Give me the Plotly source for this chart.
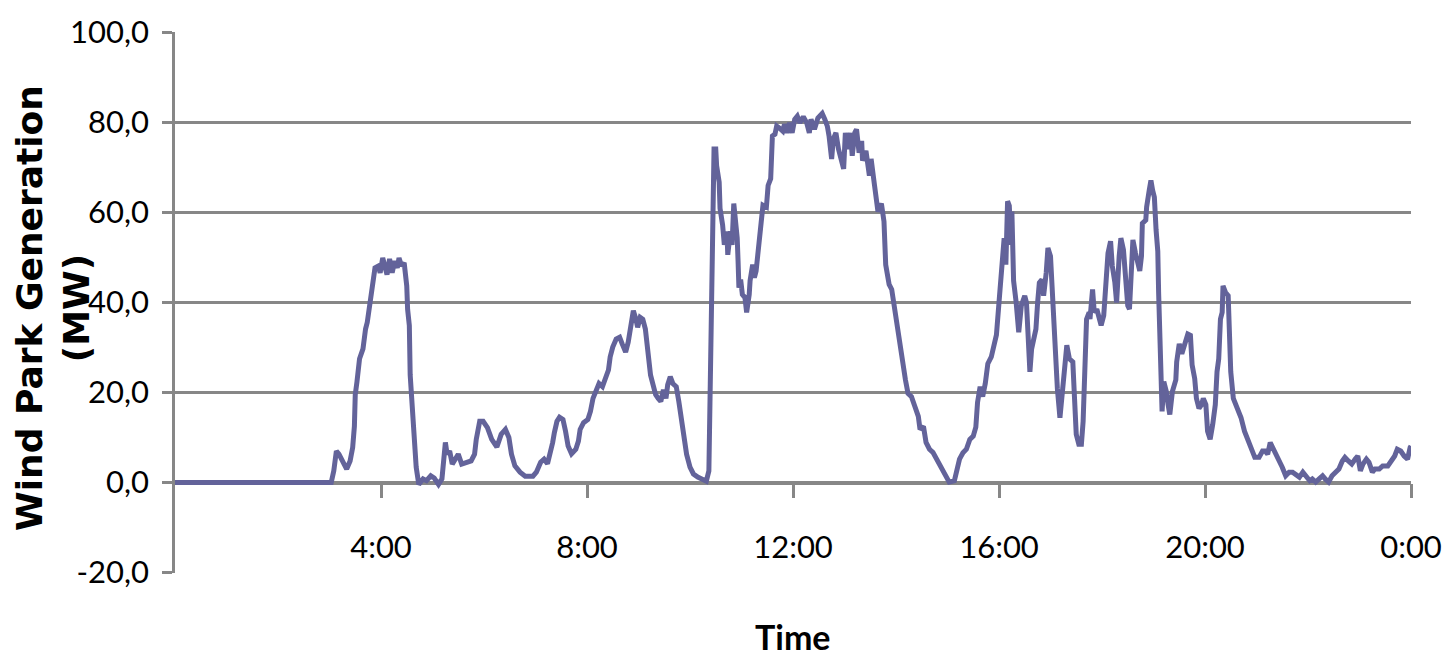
import plotly.graph_objects as go

# time of day in minutes after midnight
minutes = [0, 182, 185, 188, 191, 196, 200, 204, 207, 209, 210, 212, 213, 215, 219, 220, 222, 224, 226, 228,
           231, 233, 237, 239, 242, 245, 247, 250, 253, 256, 259, 261, 264, 267, 270, 271, 273, 274, 276, 278,
           280, 281, 284, 289, 293, 298, 302, 307, 311, 313, 315, 317, 320, 323, 327, 330, 334, 340, 345, 349,
           351, 355, 359, 364, 369, 375, 380, 385, 389, 392, 396, 402, 408, 417, 421, 426, 430, 434, 437, 440,
           442, 445, 448, 452, 455, 458, 462, 467, 470, 472, 476, 481, 484, 487, 491, 494, 498, 501, 505, 507,
           510, 514, 518, 521, 525, 528, 531, 534, 537, 539, 542, 545, 548, 551, 554, 557, 560, 563, 566, 569,
           572, 574, 577, 580, 584, 587, 590, 593, 596, 600, 604, 609, 615, 619, 622, 623, 624, 625, 627, 628,
           630, 631, 634, 635, 638, 640, 643, 644, 647, 649, 651, 653, 655, 656, 657, 659, 661, 664, 666, 669,
           670, 673, 675, 677, 679, 681, 683, 685, 689, 691, 694, 695, 696, 699, 701, 704, 708, 710, 713, 716,
           719, 722, 725, 728, 732, 736, 739, 741, 745, 749, 754, 757, 760, 762, 765, 767, 770, 773, 776, 779,
           781, 784, 787, 789, 792, 794, 797, 800, 801, 805, 809, 811, 815, 819, 823, 826, 828, 832, 835, 837,
           840, 843, 846, 848, 851, 854, 858, 862, 866, 868, 872, 875, 879, 883, 887, 891, 895, 899, 902, 908,
           911, 914, 918, 922, 926, 930, 933, 935, 938, 941, 944, 947, 951, 954, 957, 960, 963, 966, 968, 970,
           972, 974, 975, 977, 980, 983, 986, 990, 992, 994, 996, 998, 1000, 1003, 1005, 1007, 1010, 1012, 1015, 1017,
           1020, 1022, 1024, 1027, 1028, 1031, 1034, 1036, 1039, 1042, 1046, 1048, 1050, 1053, 1056, 1058, 1060, 1062, 1065, 1066,
           1069, 1071, 1074, 1077, 1079, 1082, 1084, 1087, 1090, 1092, 1095, 1097, 1100, 1102, 1105, 1108, 1110, 1112, 1114, 1116,
           1119, 1121, 1124, 1126, 1127, 1131, 1132, 1135, 1137, 1139, 1141, 1143, 1145, 1146, 1147, 1148, 1149, 1150, 1152, 1155,
           1157, 1159, 1162, 1166, 1167, 1170, 1173, 1176, 1180, 1183, 1185, 1188, 1190, 1193, 1196, 1198, 1201, 1203, 1206, 1209,
           1212, 1214, 1216, 1218, 1220, 1221, 1224, 1227, 1228, 1230, 1233, 1236, 1239, 1242, 1246, 1250, 1254, 1258, 1263, 1267,
           1270, 1273, 1276, 1279, 1282, 1286, 1290, 1294, 1298, 1302, 1306, 1310, 1314, 1318, 1322, 1325, 1329, 1333, 1337, 1340,
           1344, 1348, 1353, 1356, 1360, 1363, 1367, 1371, 1375, 1378, 1381, 1384, 1388, 1391, 1395, 1398, 1403, 1407, 1413, 1417,
           1421, 1424, 1428, 1432, 1436, 1439, 1440]

# wind park generation in MW
generation_mw = [0.0, 0.0, 2.6, 7.0, 6.3, 4.5, 3.0, 4.8, 7.8, 12.5, 19.5, 22.4, 25.3, 27.5, 29.7, 31.6, 34.1, 35.6, 38.2, 40.0,
                 43.7, 47.7, 48.1, 46.6, 49.9, 47.3, 46.2, 49.7, 46.6, 49.2, 47.7, 49.9, 48.1, 48.8, 43.7, 38.5, 34.9, 23.9, 18.8, 12.2,
                 7.0, 3.4, -0.4, 0.8, 0.4, 1.5, 1.0, -0.4, 0.8, 5.6, 8.9, 6.3, 7.0, 4.1, 5.6, 6.3, 4.1, 4.5, 4.8, 6.3,
                 9.6, 13.6, 13.6, 12.2, 9.6, 7.9, 10.7, 11.8, 10.0, 6.3, 3.7, 2.3, 1.4, 1.4, 2.3, 4.5, 5.2, 4.2, 6.3, 8.9,
                 11.1, 13.6, 14.5, 14.0, 11.4, 8.1, 6.4, 7.4, 9.2, 11.8, 13.3, 14.0, 15.8, 18.7, 20.6, 22.0, 21.3, 23.1, 25.0, 27.9,
                 30.1, 31.9, 32.3, 30.8, 29.0, 31.2, 35.2, 38.2, 36.3, 34.5, 36.7, 36.3, 34.1, 29.7, 23.9, 21.7, 19.5, 18.7, 18.0, 20.6,
                 18.7, 21.7, 23.5, 22.0, 21.3, 18.0, 14.4, 10.0, 6.3, 3.4, 1.9, 1.2, 0.8, 0.3, 2.6, 12.5, 26.4, 45.5, 53.6, 74.1,
                 74.1, 70.4, 66.7, 60.9, 57.2, 52.8, 55.8, 50.6, 55.8, 52.8, 62.0, 58.7, 54.3, 49.2, 43.3, 45.1, 41.8, 41.1, 37.8, 41.8,
                 44.8, 48.4, 45.5, 47.0, 50.6, 54.3, 57.2, 61.6, 61.2, 66.0, 67.5, 74.1, 77.0, 77.4, 79.2, 78.8, 78.1, 79.6, 77.7, 79.9,
                 77.7, 80.7, 81.4, 79.9, 81.3, 79.9, 77.7, 80.7, 78.5, 81.0, 82.0, 80.7, 79.2, 77.0, 71.9, 76.3, 77.7, 74.1, 72.2, 69.7,
                 77.7, 74.1, 77.7, 72.6, 77.7, 78.5, 73.3, 75.9, 71.5, 73.7, 68.2, 71.9, 66.0, 60.2, 62.0, 58.0, 48.4, 44.0, 42.9, 40.4,
                 36.7, 31.6, 29.4, 27.2, 22.8, 19.8, 19.1, 16.9, 14.7, 11.8, 12.5, 8.9, 7.4, 6.7, 5.2, 3.7, 2.3, 1.2, 0.1, 0.4,
                 3.0, 5.2, 6.6, 7.4, 9.6, 10.3, 12.3, 17.8, 21.3, 19.1, 22.0, 26.4, 27.9, 30.1, 32.8, 40.0, 46.0, 54.3, 48.4, 62.5,
                 61.5, 52.8, 60.2, 44.8, 40.0, 33.4, 39.3, 41.5, 40.0, 30.5, 24.6, 29.7, 31.9, 34.1, 40.0, 44.4, 45.1, 41.5, 46.6, 52.1,
                 50.3, 42.2, 38.5, 27.5, 20.9, 14.4, 21.7, 24.6, 30.5, 27.5, 26.8, 18.7, 10.7, 8.5, 8.5, 13.6, 23.1, 36.3, 37.8, 36.3,
                 42.9, 37.8, 38.5, 36.3, 34.9, 37.1, 44.4, 51.0, 53.6, 48.1, 44.4, 40.0, 50.3, 54.3, 51.7, 44.4, 39.3, 38.5, 49.5, 53.9,
                 51.0, 48.8, 47.0, 50.3, 57.6, 58.3, 61.2, 64.9, 67.1, 64.9, 63.4, 56.1, 51.4, 42.0, 33.0, 25.0, 17.0, 15.8, 22.4, 20.2,
                 17.3, 15.1, 20.2, 22.8, 26.8, 30.8, 28.6, 30.5, 33.0, 32.7, 26.1, 23.1, 18.7, 16.5, 17.3, 18.7, 17.3, 11.4, 9.6, 12.9,
                 17.3, 24.6, 27.5, 36.3, 37.8, 43.7, 42.2, 41.5, 33.4, 24.6, 18.7, 17.3, 16.5, 14.4, 11.4, 9.2, 7.8, 5.6, 5.6, 7.0,
                 7.0, 6.3, 8.9, 7.8, 6.3, 4.8, 3.4, 1.5, 2.3, 2.3, 1.8, 1.2, 2.3, 1.2, 0.4, 0.8, 0.1, 0.8, 1.5, 0.8,
                 0.1, 1.5, 2.3, 3.0, 4.8, 5.6, 4.8, 4.1, 5.2, 5.9, 2.6, 4.1, 5.2, 4.5, 2.3, 3.0, 3.0, 3.7, 3.7, 4.8,
                 5.9, 7.4, 7.0, 5.9, 5.2, 7.8, 8.1]

x_tick_vals = [240, 480, 720, 960, 1200, 1440]
x_tick_text = ["4:00", "8:00", "12:00", "16:00", "20:00", "0:00"]
y_tick_vals = [-20, 0, 20, 40, 60, 80, 100]
y_tick_text = ["-20,0", "0,0", "20,0", "40,0", "60,0", "80,0", "100,0"]

y_title = "Wind Park Generation<br>(MW)"
x_title = "Time"

y_min, y_max = -20.1, 100.1
grid_color = "#878787"
line_color = "#63639a"

fig = go.Figure()
fig.add_trace(go.Scatter(
    x=minutes, y=generation_mw, mode="lines",
    line=dict(color=line_color, width=5),
    showlegend=False, hoverinfo="skip",
))

fig.update_layout(
    width=1454, height=660, autosize=False,
    margin=dict(l=175, r=42, t=27, b=87),
    paper_bgcolor="white", plot_bgcolor="white",
    showlegend=False,
    xaxis=dict(
        range=[0, 1440], tickvals=x_tick_vals, ticktext=x_tick_text,
        anchor="free", position=(0 - y_min) / (y_max - y_min),
        showgrid=False, zeroline=False,
        showline=True, linecolor=grid_color, linewidth=2.5,
        ticks="outside", ticklen=14, tickwidth=2.5, tickcolor=grid_color,
        tickfont=dict(family="Lato", size=31, color="black"),
        ticklabelstandoff=23,
        layer="below traces",
    ),
    yaxis=dict(
        range=[y_min, y_max], tickvals=y_tick_vals, ticktext=y_tick_text,
        showgrid=True, gridcolor=grid_color, gridwidth=2.5,
        zeroline=False,
        showline=True, linecolor=grid_color, linewidth=2.5,
        ticks="outside", ticklen=10, tickwidth=2.5, tickcolor=grid_color,
        tickfont=dict(family="Lato", size=31, color="black"),
        ticklabelstandoff=7,
        layer="below traces",
    ),
    annotations=[
        dict(text=y_title, xref="paper", yref="paper", x=(53 - 175) / 1237, y=0.49,
             xanchor="center", yanchor="middle", textangle=-90, showarrow=False,
             font=dict(family="DejaVu Sans", size=36, color="black", weight="bold")),
        dict(text=x_title, xref="paper", yref="paper", x=0.5, y=(573 - 659) / 546,
             xanchor="center", yanchor="bottom", showarrow=False, borderpad=0,
             font=dict(family="Lato", size=34, color="black", weight="bold")),
    ],
)

fig.write_html("out.html", config={"displayModeBar": False},
               post_script="document.body.style.margin='0px';")
